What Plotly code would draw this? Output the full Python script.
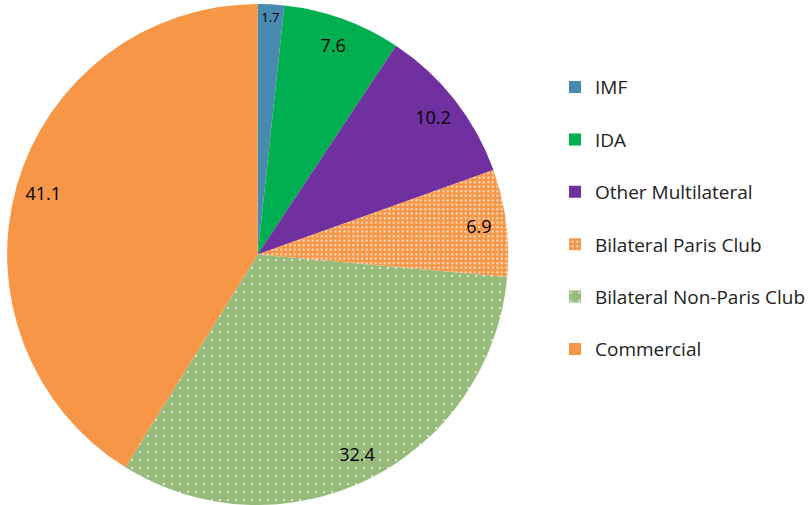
import plotly.graph_objects as go

categories = ["IMF", "IDA", "Other Multilateral", "Bilateral Paris Club",
              "Bilateral Non-Paris Club", "Commercial"]
shares = [1.7, 7.6, 10.2, 6.9, 32.4, 41.1]

colors = ["#4A8AB0", "#00B050", "#7030A0", "#F79646", "#96BB7A", "#F79646"]
pattern_shapes = ["", "", "", ".", ".", ""]
pattern_sizes = [6, 6, 6, 4.5, 8, 6]
pattern_solidity = [0.3, 0.3, 0.3, 0.16, 0.045, 0.3]

# a blank second line makes each legend entry taller (~52px apart)
legend_labels = [f"{c}<br>&nbsp;" for c in categories]

pie_domain = dict(x=[0, 0.626], y=[0, 1])

fig = go.Figure()

fig.add_trace(go.Pie(
    labels=legend_labels,
    values=shares,
    sort=False,
    direction="clockwise",
    rotation=0,
    marker=dict(
        colors=colors,
        line=dict(width=0),
        pattern=dict(
            shape=pattern_shapes,
            size=pattern_sizes,
            solidity=pattern_solidity,
            fgcolor="white",
            bgcolor=colors,
            fgopacity=0.9,
        ),
    ),
    textinfo="none",
    domain=pie_domain,
    customdata=categories,
    hovertemplate="%{customdata}: %{value}<extra></extra>",
))

# transparent donut on top only to place the value labels near the rim
fig.add_trace(go.Pie(
    labels=categories,
    values=shares,
    sort=False,
    direction="clockwise",
    rotation=0,
    hole=0.78,
    marker=dict(colors=["rgba(0,0,0,0)"] * len(shares), line=dict(width=0)),
    texttemplate="%{value:.1f}",
    textposition="inside",
    insidetextorientation="horizontal",
    textfont=dict(size=18, color="black", family="Open Sans"),
    domain=pie_domain,
    showlegend=False,
    hoverinfo="skip",
))

fig.update_layout(
    width=811,
    height=505,
    margin=dict(l=6, r=0, t=4, b=0),
    paper_bgcolor="white",
    font=dict(family="Open Sans", size=19, color="#222222"),
    legend=dict(
        x=0.683, y=0.872, yanchor="top", xanchor="left",
        font=dict(size=19, color="#222222"),
        valign="top",
    ),
)

fig.write_html(
    "out.html",
    config={"displayModeBar": False},
    post_script="document.body.style.margin='0';",
)
